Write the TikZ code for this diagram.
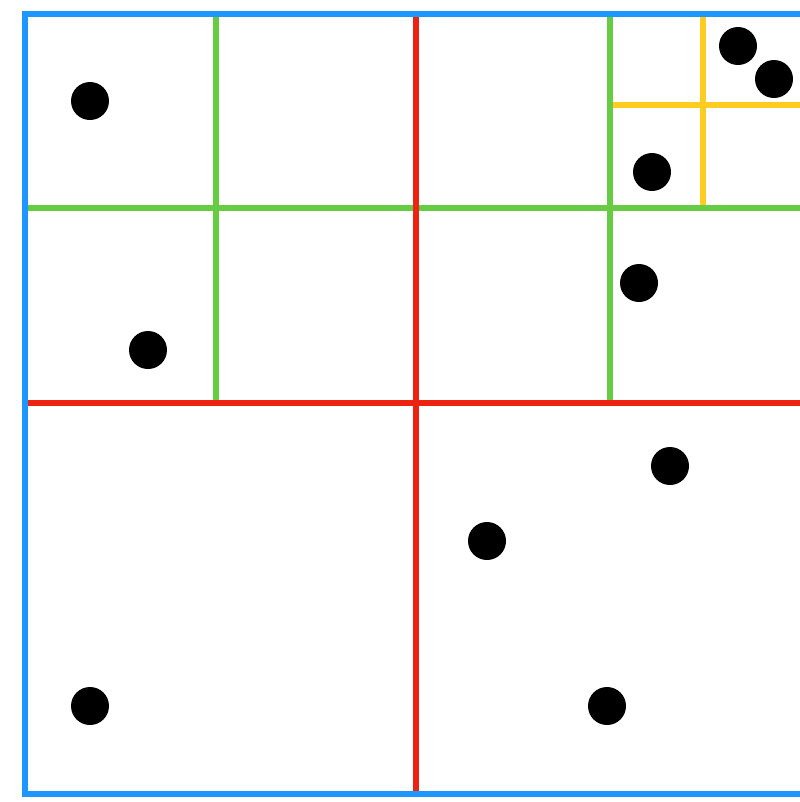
\documentclass[tikz,border=0pt]{standalone}
\usepackage{tikz}
\usetikzlibrary{positioning}

\definecolor{qblue}{RGB}{30,150,255}
\definecolor{qgreen}{RGB}{102,204,68}
\definecolor{qred}{RGB}{238,34,17}
\definecolor{qyellow}{RGB}{255,204,34}

\begin{document}
\begin{tikzpicture}[pt/.style = {circle, fill=black, inner sep=0pt, minimum size=0.38cm},
	split/.style = {line width=1.7pt}]
	\useasboundingbox (0,0) rectangle (8,-8.02);
	\clip (0,0) rectangle (8,-8.02);

	% level 3
	\draw[split, qyellow] (7.03,-0.14) -- (7.03,-2.08);
	\draw[split, qyellow] (6.10,-1.05) -- (8.07,-1.05);

	% level 2
	\draw[split, qgreen] (2.16,-0.14) -- (2.16,-4.03);
	\draw[split, qgreen] (6.10,-0.14) -- (6.10,-4.03);
	\draw[split, qgreen] (0.25,-2.08) -- (8.07,-2.08);

	% level 1
	\draw[split, qred] (4.16,-0.14) -- (4.16,-7.94);
	\draw[split, qred] (0.25,-4.03) -- (8.07,-4.03);

	% root
	\draw[split, qblue] (0.25,-0.14) rectangle (8.07,-7.94);

	% points
	\node[pt] (p1) at (0.90,-1.01) {};
	\node[pt] (p2) at (1.48,-3.50) {};
	\node[pt] (p3) at (7.38,-0.46) {};
	\node[pt] (p4) at (7.74,-0.79) {};
	\node[pt] (p5) at (6.52,-1.72) {};
	\node[pt] (p6) at (6.39,-2.83) {};
	\node[pt] (p7) at (6.70,-4.66) {};
	\node[pt] (p8) at (4.87,-5.41) {};
	\node[pt] (p9) at (0.90,-7.06) {};
	\node[pt] (p10) at (6.07,-7.06) {};

\end{tikzpicture}
\end{document}
